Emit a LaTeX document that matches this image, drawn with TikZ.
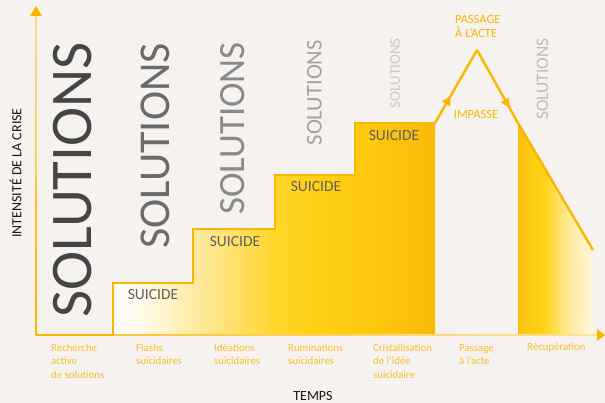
\documentclass[tikz,border=0pt]{standalone}
\usepackage{fontspec}
\setmainfont{Carlito}
\usetikzlibrary{arrows.meta,decorations.markings}

\definecolor{bg}{HTML}{F5F2EF}
\definecolor{crisis}{HTML}{F9B700}
\definecolor{phaselabel}{HTML}{F8BE30}
\definecolor{solA}{HTML}{454545}
\definecolor{solB}{HTML}{6B6B6B}
\definecolor{solC}{HTML}{8A8A8A}
\definecolor{solD}{HTML}{A3A3A3}
\definecolor{solE}{HTML}{C9C9C9}
\definecolor{solF}{HTML}{BDBDBD}
\definecolor{suicidetext}{HTML}{5F5F5F}

% stair colours, white on the left to deep yellow on the right
\definecolor{stA}{HTML}{FFFFFF}
\definecolor{stB}{HTML}{FFF8E0}
\definecolor{stC}{HTML}{FEEBA5}
\definecolor{stD}{HTML}{FFDE62}
\definecolor{stE}{HTML}{FFD52A}
\definecolor{stF}{HTML}{FFD012}
\definecolor{stG}{HTML}{FDC60E}
\definecolor{stH}{HTML}{FAB90A}
\pgfdeclarehorizontalshading{stairshade}{100bp}{%
  color(0bp)=(stA); color(25bp)=(stA); color(30.7bp)=(stB);
  color(37.4bp)=(stC); color(44.7bp)=(stD); color(50.2bp)=(stE);
  color(57.1bp)=(stF); color(66.5bp)=(stG); color(75bp)=(stH);
  color(100bp)=(stH)}

% recovery colours, orange fading to pale cream
\definecolor{rcA}{HTML}{FBBE10}
\definecolor{rcB}{HTML}{FFCB12}
\definecolor{rcC}{HTML}{FFD419}
\definecolor{rcD}{HTML}{FFE26E}
\definecolor{rcE}{HTML}{FFEFB0}
\definecolor{rcF}{HTML}{FFF8DD}
\pgfdeclarehorizontalshading{recovershade}{100bp}{%
  color(0bp)=(rcA); color(25bp)=(rcA); color(33bp)=(rcB);
  color(43bp)=(rcC); color(53bp)=(rcD); color(63bp)=(rcE);
  color(75bp)=(rcF); color(100bp)=(rcF)}

\tikzset{
  solword/.style={rotate=90, anchor=east, inner sep=0pt},
  suicidelabel/.style={inner sep=0pt, text=suicidetext,
    font=\fontsize{15.5}{16}\selectfont},
  phase/.style={anchor=north west, inner sep=0pt, align=left, text=phaselabel,
    font=\fontsize{10.8}{13.3}\selectfont},
  peaklabel/.style={inner sep=0pt, text=crisis,
    font=\fontsize{12.5}{14.5}\selectfont},
  axislabel/.style={inner sep=0pt, text=black!90,
    font=\fontsize{14}{16}\selectfont},
  crisisline/.style={draw=crisis, line width=2.4pt},
  midarrow/.style={postaction={decorate, decoration={markings,
    mark=at position #1 with {\arrow{Triangle[length=9pt,width=9pt]}}}}}
}

\begin{document}
\begin{tikzpicture}[x=1pt,y=-1pt]
  \useasboundingbox (0,0) rectangle (605,403);
  \fill[bg] (0,0) rectangle (605,403);

  % key points of the crisis curve
  \coordinate (origin) at (36,335);
  \coordinate (s0) at (113,335);
  \coordinate (s1a) at (113,283);
  \coordinate (s1b) at (193,283);
  \coordinate (s2a) at (193,229);
  \coordinate (s2b) at (275,229);
  \coordinate (s3a) at (275,175);
  \coordinate (s3b) at (355,175);
  \coordinate (s4a) at (355,123);
  \coordinate (s4b) at (435,123);
  \coordinate (s4c) at (435,335);
  \coordinate (peak) at (477,50);
  \coordinate (fall) at (518,123);
  \coordinate (fallbase) at (518,335);
  \coordinate (endtop) at (593,250);
  \coordinate (endbase) at (593,335);

  % filled stairs and recovery slope
  \path[shading=stairshade] (s0) -- (s1a) -- (s1b) -- (s2a) -- (s2b) -- (s3a)
    -- (s3b) -- (s4a) -- (s4b) -- (s4c) -- cycle;
  \path[shading=recovershade] (fall) -- (endtop) -- (endbase) -- (fallbase) -- cycle;

  % axes
  \path[left color=crisis!85, right color=crisis!40] (36,334.2) rectangle (597,335.8);
  \path[top color=crisis!55, bottom color=crisis]
    (35.5,16) -- (36.5,16) -- (37,335) -- (35,335) -- cycle;
  \fill[crisis] (605,335) -- (597,329) -- (597,341) -- cycle;
  \fill[crisis] (36,6) -- (30,16) -- (42,16) -- cycle;

  % crisis curve outline
  \draw[crisisline] (origin) -- (s0) -- (s1a) -- (s1b) -- (s2a) -- (s2b) -- (s3a)
    -- (s3b) -- (s4a) -- (s4b);
  \draw[crisisline, midarrow=0.37] (s4b) -- (peak);
  \draw[crisisline, midarrow=0.79] (peak) -- (fall);
  \draw[crisisline] (fall) -- (endtop);
  \fill[crisis] (35,335) rectangle (37,300);

  % fading SOLUTIONS
  \node[solword, text=solA, font=\fontsize{59}{60}\selectfont] (solA) at (72.5,42) {SOLUTIONS};
  \node[solword, text=solB, font=\fontsize{44}{45}\selectfont] (solB) at (155,43) {SOLUTIONS};
  \node[solword, text=solC, font=\fontsize{37}{38}\selectfont] (solC) at (232.5,42) {SOLUTIONS};
  \node[solword, text=solD, font=\fontsize{22.5}{23}\selectfont] (solD) at (314.5,40) {SOLUTIONS};
  \node[solword, text=solE, font=\fontsize{15}{16}\selectfont] (solE) at (395,38) {SOLUTIONS};
  \node[solword, text=solF, font=\fontsize{17.5}{18}\selectfont] (solF) at (542.5,38) {SOLUTIONS};

  % SUICIDE on each step
  \node[suicidelabel] (sui1) at (153,295) {SUICIDE};
  \node[suicidelabel] (sui2) at (235,242) {SUICIDE};
  \node[suicidelabel] (sui3) at (316,187) {SUICIDE};
  \node[suicidelabel] (sui4) at (394,136) {SUICIDE};

  % peak labels
  \node[peaklabel, anchor=north west, align=left] (acte) at (455,15) {PASSAGE\\À L’ACTE};
  \node[peaklabel] (impasse) at (476,114) {IMPASSE};

  % phases along the time axis
  \node[phase] (p1) at (51,344) {Recherche\\active\\de solutions};
  \node[phase] (p2) at (136,344) {Flashs\\suicidaires};
  \node[phase] (p3) at (214,344) {Idéations\\suicidaires};
  \node[phase] (p4) at (288,344) {Ruminations\\suicidaires};
  \node[phase] (p5) at (373,344) {Cristallisation\\de l’idée\\suicidaire};
  \node[phase] (p6) at (459,344) {Passage\\à l’acte};
  \node[phase] (p7) at (527,343) {Récupération};

  % axis titles
  \node[axislabel, anchor=base] (temps) at (313,400) {TEMPS};
  \node[axislabel, rotate=90] (intens) at (15.5,173) {INTENSITÉ DE LA CRISE};
\end{tikzpicture}
\end{document}
